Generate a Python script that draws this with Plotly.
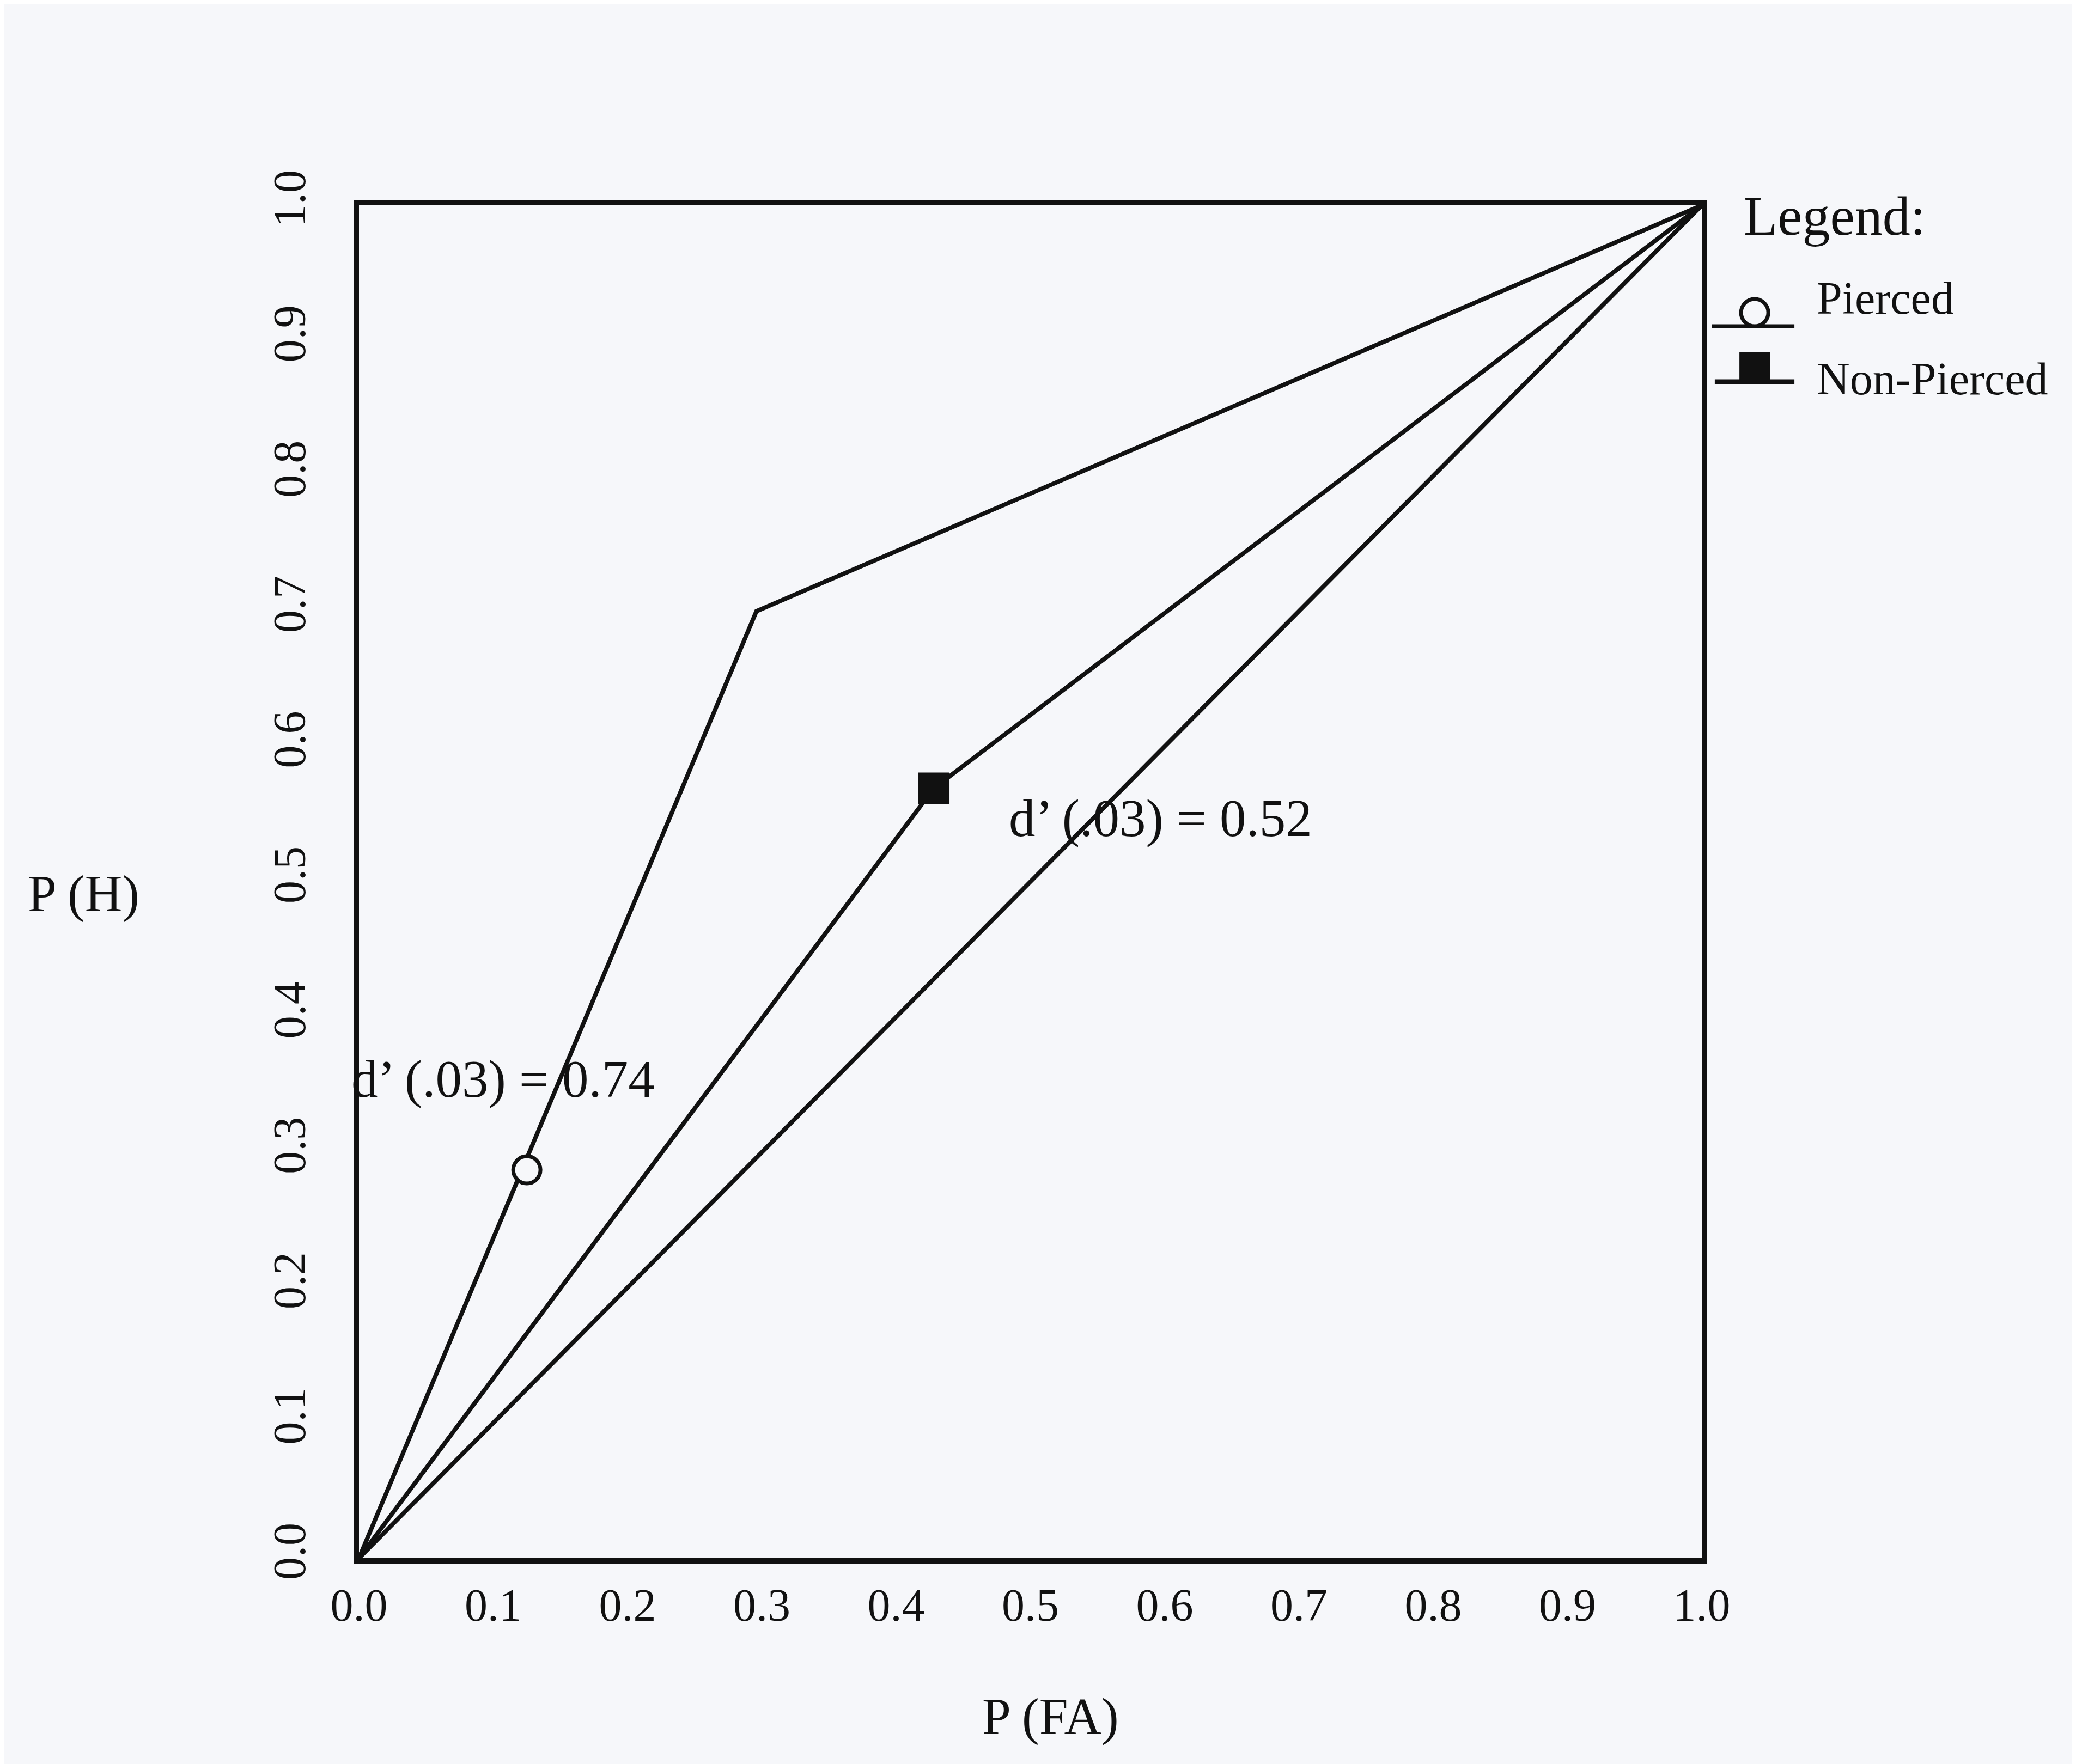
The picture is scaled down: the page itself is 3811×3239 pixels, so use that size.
import plotly.graph_objects as go

# ---- data ----
tick_vals = [0.0, 0.1, 0.2, 0.3, 0.4, 0.5, 0.6, 0.7, 0.8, 0.9, 1.0]
tick_text = ["0.0", "0.1", "0.2", "0.3", "0.4", "0.5", "0.6", "0.7", "0.8", "0.9", "1.0"]

# Pierced ROC line (through origin, kink, and (1,1))
pierced_line_fa = [0.0, 0.296, 1.0]
pierced_line_h = [0.0, 0.70, 1.0]
# Pierced observed point
pierced_pt_fa = [0.125]
pierced_pt_h = [0.287]

# Non-pierced ROC line and observed point
nonpierced_line_fa = [0.0, 0.428, 1.0]
nonpierced_line_h = [0.0, 0.569, 1.0]
nonpierced_pt_fa = [0.428]
nonpierced_pt_h = [0.569]

# chance diagonal
diag_fa = [0.0, 1.0]
diag_h = [0.0, 1.0]

FONT = "Liberation Serif, Times New Roman, serif"
INK = "#111111"
BG = "#f6f7fa"

fig = go.Figure()

line_style = dict(color=INK, width=8)
fig.add_trace(go.Scatter(x=diag_fa, y=diag_h, mode="lines", line=line_style,
                         showlegend=False, cliponaxis=False, hoverinfo="skip"))
fig.add_trace(go.Scatter(x=nonpierced_line_fa, y=nonpierced_line_h, mode="lines",
                         line=line_style, showlegend=False, cliponaxis=False))
fig.add_trace(go.Scatter(x=pierced_line_fa, y=pierced_line_h, mode="lines",
                         line=line_style, showlegend=False, cliponaxis=False))
fig.add_trace(go.Scatter(x=pierced_pt_fa, y=pierced_pt_h, mode="markers", name="Pierced",
                         marker=dict(symbol="circle", size=50, color=BG,
                                     line=dict(color=INK, width=7)),
                         showlegend=False, cliponaxis=False))
fig.add_trace(go.Scatter(x=nonpierced_pt_fa, y=nonpierced_pt_h, mode="markers", name="Non-Pierced",
                         marker=dict(symbol="square", size=56, color=INK,
                                     line=dict(color=INK, width=2)),
                         showlegend=False, cliponaxis=False))

axis_common = dict(range=[0, 1], tickvals=tick_vals, ticktext=tick_text,
                   showline=True, mirror=True, linecolor=INK, linewidth=10,
                   showgrid=False, zeroline=False, ticks="",
                   tickfont=dict(family=FONT, size=84, color=INK))
fig.update_xaxes(**axis_common, ticklabelstandoff=4)
fig.update_yaxes(**axis_common, tickangle=-90, ticklabelstandoff=55)

annotations = [
    dict(text="P (H)", x=-0.205, y=0.491, xref="paper", yref="paper",
         showarrow=False, xanchor="center", yanchor="middle",
         font=dict(family=FONT, size=95, color=INK)),
    dict(text="P (FA)", x=0.515, y=-0.117, xref="paper", yref="paper",
         showarrow=False, xanchor="center", yanchor="middle",
         font=dict(family=FONT, size=95, color=INK)),
    dict(text="d\u2019 (.03) = 0.74", x=0.1075, y=0.354, xref="x", yref="y",
         showarrow=False, xanchor="center", yanchor="middle",
         font=dict(family=FONT, size=97, color=INK)),
    dict(text="d\u2019 (.03) = 0.52", x=0.597, y=0.547, xref="x", yref="y",
         showarrow=False, xanchor="center", yanchor="middle",
         font=dict(family=FONT, size=97, color=INK)),
    # legend texts
    dict(text="Legend:", x=1.0304, y=0.992, xref="paper", yref="paper",
         showarrow=False, xanchor="left", yanchor="middle",
         font=dict(family=FONT, size=102, color=INK)),
    dict(text="Pierced", x=1.0848, y=0.9312, xref="paper", yref="paper",
         showarrow=False, xanchor="left", yanchor="middle",
         font=dict(family=FONT, size=84, color=INK)),
    dict(text="Non-Pierced", x=1.0848, y=0.8716, xref="paper", yref="paper",
         showarrow=False, xanchor="left", yanchor="middle",
         font=dict(family=FONT, size=84, color=INK)),
]

shapes = [
    # Pierced legend sample: line with open circle sitting on it
    dict(type="line", xref="paper", yref="paper", x0=1.0077, x1=1.0690, y0=0.9106, y1=0.9106,
         line=dict(color=INK, width=7)),
    dict(type="circle", xref="paper", yref="paper", xsizemode="pixel", ysizemode="pixel",
         xanchor=1.0394, yanchor=0.9106, x0=-25, x1=25, y0=0, y1=50,
         line=dict(color=INK, width=7), fillcolor=BG),
    # Non-Pierced legend sample: line with filled square sitting on it
    dict(type="line", xref="paper", yref="paper", x0=1.0097, x1=1.0690, y0=0.8696, y1=0.8696,
         line=dict(color=INK, width=9)),
    dict(type="rect", xref="paper", yref="paper", xsizemode="pixel", ysizemode="pixel",
         xanchor=1.0394, yanchor=0.8696, x0=-27, x1=27, y0=0, y1=54,
         line=dict(color=INK, width=2), fillcolor=INK),
]

fig.update_layout(
    width=3811, height=3239,
    margin=dict(l=651, r=695, t=369, b=386),
    paper_bgcolor=BG, plot_bgcolor=BG,
    showlegend=False,
    annotations=annotations,
    shapes=shapes,
    font=dict(family=FONT, color=INK),
)

fig.write_html("out.html")
